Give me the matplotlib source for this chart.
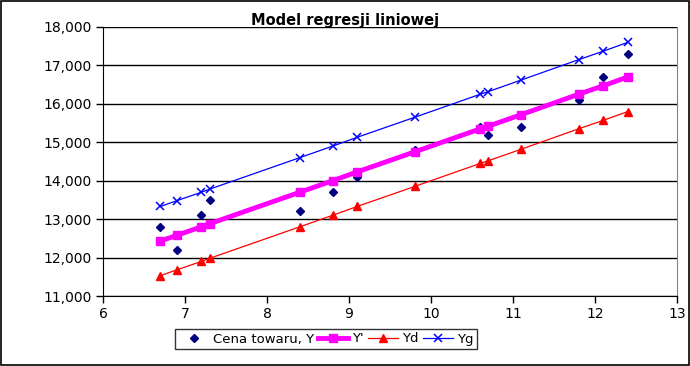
import matplotlib.pyplot as plt
from matplotlib.ticker import FuncFormatter, MultipleLocator
from matplotlib.patches import Rectangle

# -------------------------
# Data
# -------------------------
x = [6.7, 6.9, 7.2, 7.3, 8.4, 8.8, 9.1, 9.8, 10.6, 10.7, 11.1, 11.8, 12.1, 12.4]
y_cena = [12800, 12200, 13100, 13500, 13200, 13700, 14100, 14800, 15400, 15200, 15400, 16100, 16700, 17300]
y_reg = [12430, 12580, 12800, 12880, 13700, 14000, 14230, 14750, 15350, 15420, 15720, 16250, 16470, 16700]
y_d = [11530, 11680, 11900, 11980, 12800, 13100, 13330, 13850, 14450, 14520, 14820, 15350, 15570, 15800]
y_g = [13330, 13480, 13700, 13780, 14600, 14900, 15130, 15650, 16250, 16320, 16620, 17150, 17370, 17600]

fig = plt.figure(figsize=(6.9, 3.66), dpi=100)
ax = fig.add_axes([103/690, 1-296/366, 574/690, 269/366])

ax.plot(x, y_cena, linestyle='none', marker='D', color='#000080', markersize=4.5, label='Cena towaru, Y')
ax.plot(x, y_reg, color='#ff00ff', linewidth=3.5, marker='s', markersize=6, label="Y'")
ax.plot(x, y_d, color='red', linewidth=0.9, marker='^', markersize=5.5, label='Yd')
ax.plot(x, y_g, color='blue', linewidth=0.9, marker='x', markersize=5.5, markeredgewidth=1.1, label='Yg')

ax.set_xlim(6, 13)
ax.set_ylim(11000, 18000)
ax.xaxis.set_major_locator(MultipleLocator(1))
ax.yaxis.set_major_locator(MultipleLocator(1000))
ax.yaxis.set_major_formatter(FuncFormatter(lambda v, p: f'{int(v):,}'))
ax.grid(axis='y', color='black', linewidth=1)
ax.set_axisbelow(True)
ax.tick_params(axis='both', direction='out', length=5, width=1, labelsize=10, colors='black', pad=3)

ax.spines['top'].set_visible(False)
ax.spines['right'].set_color('#808080')
for s in ['left', 'bottom']:
    ax.spines[s].set_color('black')

fig.text(0.5, 0.943, 'Model regresji liniowej', ha='center', va='center', fontsize=10.5, fontweight='bold')

leg = fig.legend(loc='center', bbox_to_anchor=(326/690, 1-339/366), ncol=4, frameon=True,
                 fancybox=False, edgecolor='black', fontsize=9.5, handlelength=2.3,
                 columnspacing=0.3, handletextpad=0.3, borderpad=0.3)
leg.get_frame().set_linewidth(1)

fig.patches.append(Rectangle((0.001, 0.002), 0.997, 0.995, transform=fig.transFigure,
                             fill=False, edgecolor='black', linewidth=1.2))

fig.savefig('out.png', dpi=100)
